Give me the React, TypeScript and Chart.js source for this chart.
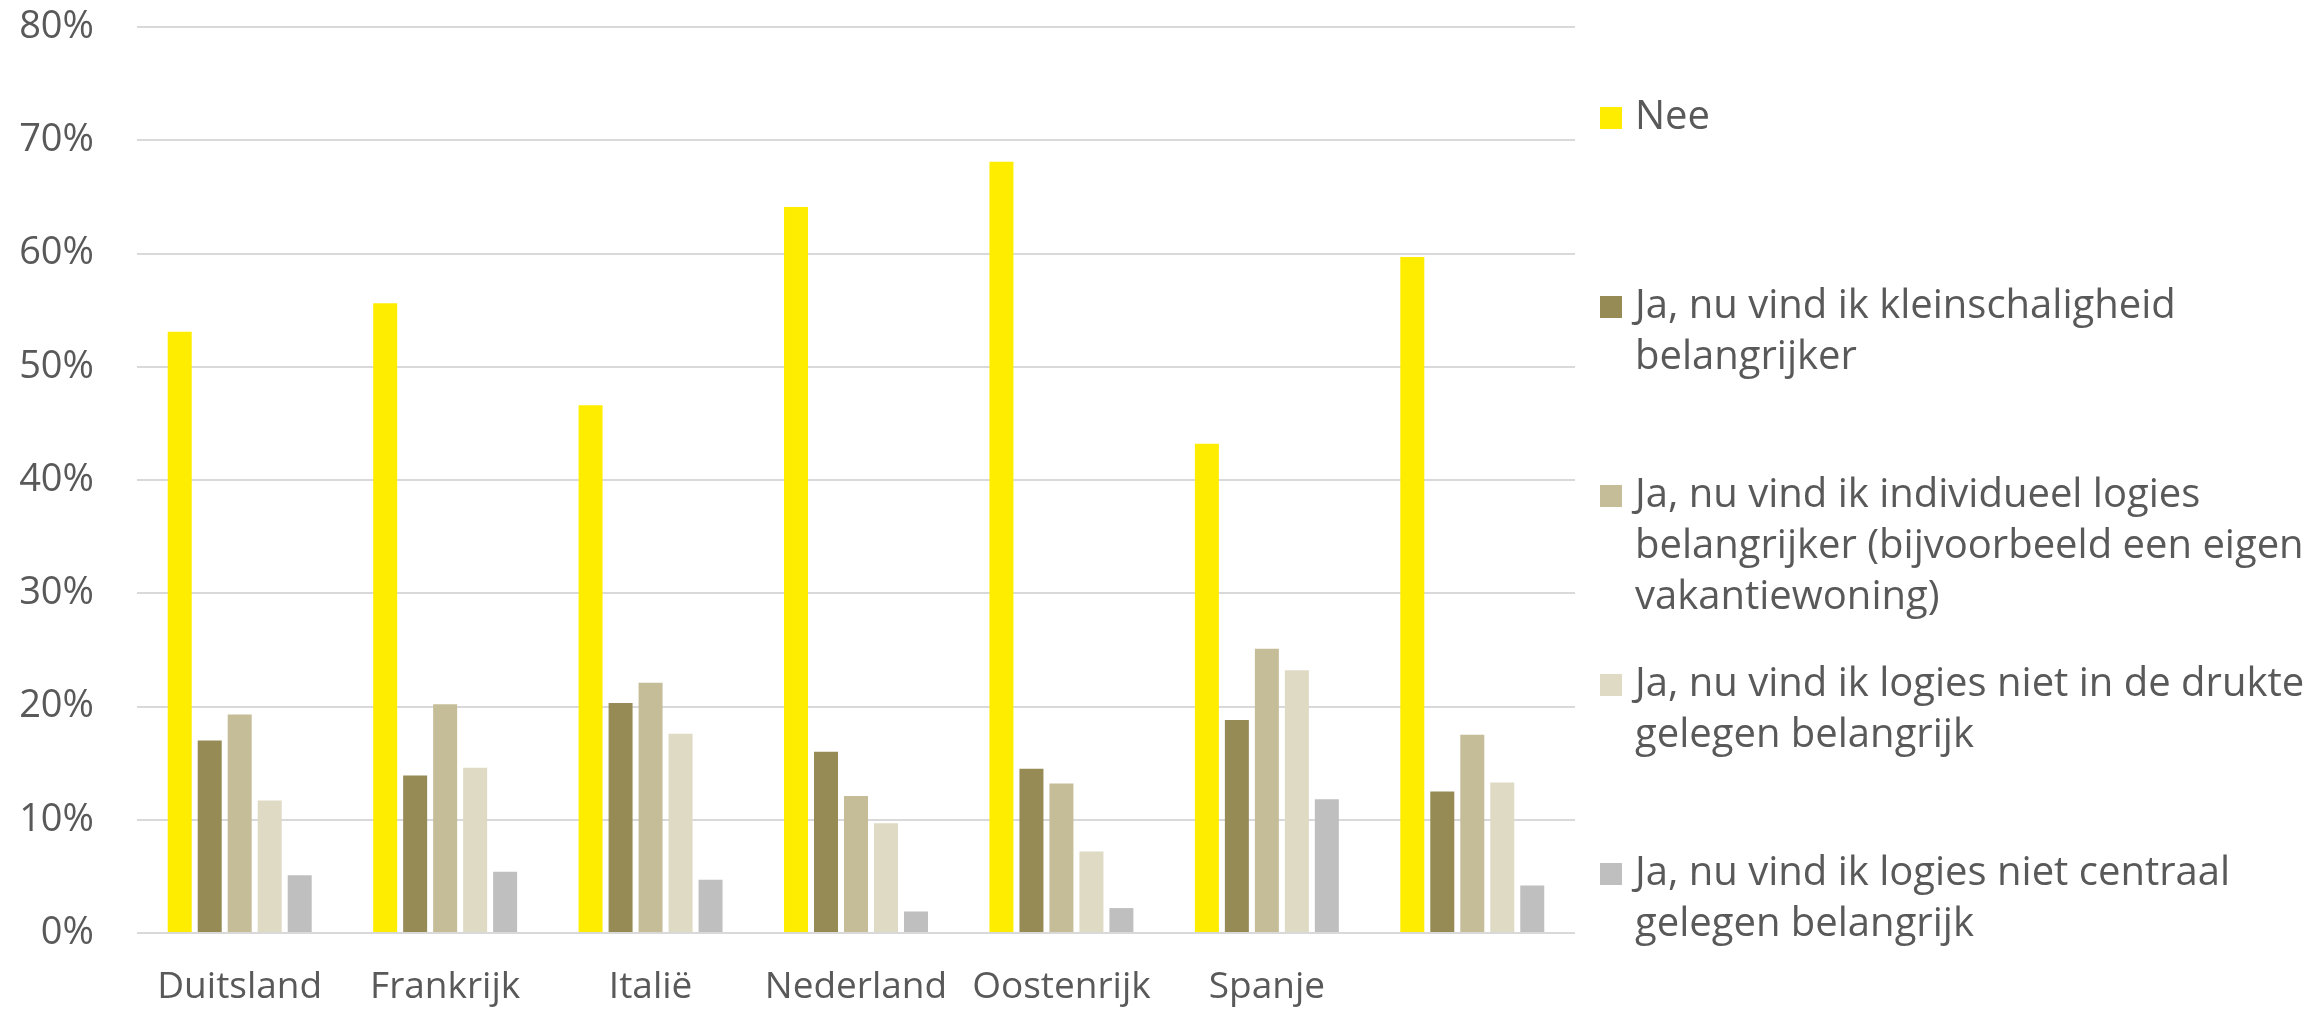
import React, { useEffect, useRef } from "react";
import { Chart, registerables } from "chart.js";

Chart.register(...registerables);

const categories = ["Duitsland", "Frankrijk", "Italië", "Nederland", "Oostenrijk", "Spanje", ""];

const seriesLabels = [
  "Nee",
  "Ja, nu vind ik kleinschaligheid belangrijker",
  "Ja, nu vind ik individueel logies belangrijker (bijvoorbeeld een eigen vakantiewoning)",
  "Ja, nu vind ik logies niet in de drukte gelegen belangrijk",
  "Ja, nu vind ik logies niet centraal gelegen belangrijk",
];

const legendLines = [
  ["Nee"],
  ["Ja, nu vind ik kleinschaligheid", "belangrijker"],
  ["Ja, nu vind ik individueel logies", "belangrijker (bijvoorbeeld een eigen", "vakantiewoning)"],
  ["Ja, nu vind ik logies niet in de drukte", "gelegen belangrijk"],
  ["Ja, nu vind ik logies niet centraal", "gelegen belangrijk"],
];

const nee = [53.1, 55.6, 46.6, 64.1, 68.1, 43.2, 59.7];
const kleinschalig = [17.0, 13.9, 20.3, 16.0, 14.5, 18.8, 12.5];
const individueel = [19.3, 20.2, 22.1, 12.1, 13.2, 25.1, 17.5];
const nietDrukte = [11.7, 14.6, 17.6, 9.7, 7.2, 23.2, 13.3];
const nietCentraal = [5.1, 5.4, 4.7, 1.9, 2.2, 11.8, 4.2];

const seriesValues = [nee, kleinschalig, individueel, nietDrukte, nietCentraal];
const seriesColors = ["#FFED00", "#968A55", "#C5BD98", "#DFDAC3", "#BFBFBF"];

const yTicks = [0, 10, 20, 30, 40, 50, 60, 70, 80];

const FONT = "'Open Sans', 'Noto Sans', sans-serif";
const TEXT = "#595959";

const legendPlugin = {
  id: "customLegend",
  afterDraw(chart: any) {
    const ctx = chart.ctx;
    ctx.save();
    ctx.font = `40px ${FONT}`;
    ctx.textBaseline = "middle";
    ctx.textAlign = "left";
    const boxX = 1600;
    const boxSize = 22;
    const textX = 1635;
    const firstY = 118;
    const itemStep = 189;
    const lineH = 51;
    chart.data.datasets.forEach((ds: any, i: number) => {
      const y0 = firstY + i * itemStep;
      ctx.fillStyle = ds.backgroundColor;
      ctx.fillRect(boxX, y0 - boxSize / 2, boxSize, boxSize);
      ctx.fillStyle = TEXT;
      legendLines[i].forEach((line, j) => {
        ctx.fillText(line, textX, y0 + j * lineH);
      });
    });
    ctx.restore();
  },
};

export default function App() {
  const canvasRef = useRef<HTMLCanvasElement | null>(null);

  useEffect(() => {
    if (!canvasRef.current) return;
    const chart = new Chart(canvasRef.current, {
      type: "bar",
      data: {
        labels: categories,
        datasets: seriesLabels.map((label, i) => ({
          label,
          data: seriesValues[i],
          backgroundColor: seriesColors[i],
          borderWidth: 0,
          categoryPercentage: 0.73,
          barPercentage: 0.8,
        })),
      },
      options: {
        animation: false,
        responsive: true,
        maintainAspectRatio: false,
        layout: { padding: { left: 0, right: 735, top: 27, bottom: 0 } },
        plugins: {
          legend: { display: false },
          tooltip: { enabled: false },
          title: { display: false },
        },
        scales: {
          x: {
            grid: { display: false, drawTicks: false },
            border: { display: false },
            ticks: {
              color: TEXT,
              font: { family: FONT, size: 37 },
              padding: 32,
              maxRotation: 0,
              autoSkip: false,
            },
            afterFit(scale: any) {
              scale.height = 76;
            },
          },
          y: {
            min: 0,
            max: 80,
            afterBuildTicks(scale: any) {
              scale.ticks = yTicks.map((v) => ({ value: v }));
            },
            grid: { color: "#D9D9D9", lineWidth: 2, drawTicks: false },
            border: { display: false },
            ticks: {
              color: TEXT,
              font: { family: FONT, size: 38 },
              padding: 43,
              callback: (v: any) => `${v}%`,
            },
            afterFit(scale: any) {
              scale.width = 137;
              scale.paddingTop = 0;
              scale.paddingBottom = 0;
            },
          },
        },
      },
      plugins: [legendPlugin],
    });
    return () => chart.destroy();
  }, []);

  return (
    <div style={{ position: "absolute", left: 0, top: 0, width: 2310, height: 1009, background: "#fff" }}>
      <canvas ref={canvasRef} />
    </div>
  );
}
